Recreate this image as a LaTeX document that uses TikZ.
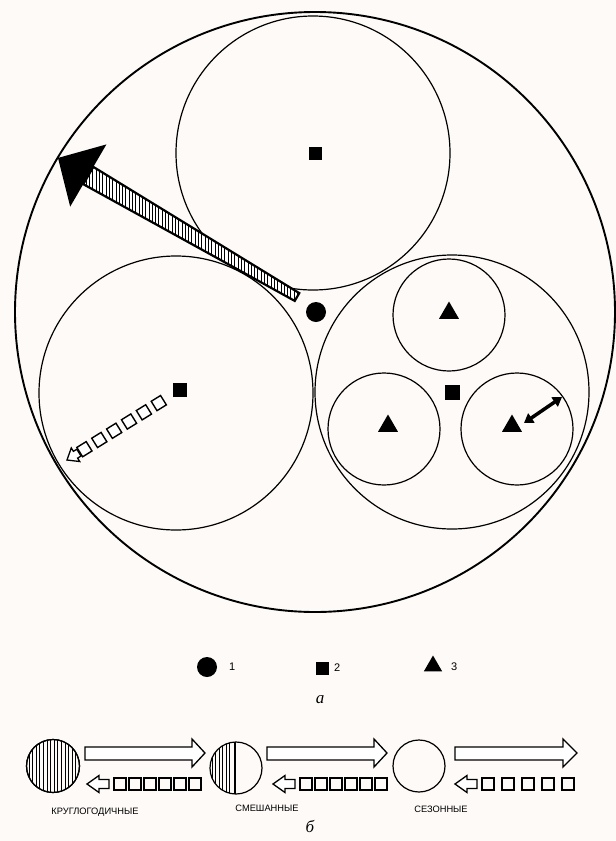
\documentclass[tikz,border=0pt]{standalone}
\usepackage{fontspec}
\setmainfont{Liberation Serif}
\newfontfamily\lblfont{Liberation Sans}
\usetikzlibrary{shapes.geometric,arrows.meta,calc}
\definecolor{paper}{RGB}{253,250,248}
\begin{document}
\begin{tikzpicture}[x=1pt,y=-1pt,
  ring/.style={circle,draw,inner sep=0pt,outer sep=0pt,line width=1.2pt},
  blacksq/.style={rectangle,fill=black,inner sep=0pt,outer sep=0pt,minimum size=#1},
  blacktri/.style={regular polygon,regular polygon sides=3,fill=black,inner sep=0pt,outer sep=0pt,minimum size=#1},
  blackdot/.style={circle,fill=black,inner sep=0pt,outer sep=0pt,minimum size=#1},
  outline/.style={draw=black,line width=1.3pt,fill=white,line join=miter},
  hatch/.style={line width=0.9pt},
  smalllabel/.style={font=\lblfont\fontsize{9.3}{10}\selectfont,inner sep=0pt},
  legendlabel/.style={font=\lblfont\fontsize{11}{11}\selectfont,inner sep=0pt,anchor=west},
  partlabel/.style={font=\itshape\fontsize{17}{17}\selectfont,inner sep=0pt}
]
\fill[paper] (0,0) rectangle (616,841);
\useasboundingbox (0,0) rectangle (616,841);

% ---------- part a : circles ----------
\node[ring,line width=1.9pt,minimum size=600pt] (outer) at (315,312) {};
\node[ring,minimum size=274pt] (top) at (313,153) {};
\node[ring,minimum size=274pt] (left) at (176,393) {};
\node[ring,minimum size=274pt] (right) at (452,392) {};
\node[ring,minimum size=112pt] (rtop) at (449,315) {};
\node[ring,minimum size=112pt] (rbl) at (384,429) {};
\node[ring,minimum size=112pt] (rbr) at (517,429) {};

\node[blackdot=20pt] (dot) at (316,312) {};
\node[blacksq=13pt] (sqtop) at (315,153) {};
\node[blacksq=14pt] (sqleft) at (180,390) {};
\node[blacksq=15pt] (sqright) at (452,392) {};
\node[blacktri=23pt] (ttop) at (449,313) {};
\node[blacktri=23pt] (tbl) at (388,426) {};
\node[blacktri=23pt] (tbr) at (512,426) {};

% double arrow in the right small circle
\coordinate (da1) at (524,423);
\coordinate (da2) at (562,397);
\draw[line width=3.5pt,{Triangle[length=9pt,width=11pt]}-{Triangle[length=9pt,width=11pt]}] (da1)--(da2);

% big hatched arrow
\begin{scope}[shift={(297,297)},rotate=149.8]
  \coordinate (s1) at (0,-4.5);
  \coordinate (s2) at (241.5,-10);
  \coordinate (s3) at (241.5,10);
  \coordinate (s4) at (0,4.5);
  \coordinate (h1) at (241.5,-36);
  \coordinate (tip) at (276.5,0);
  \coordinate (h2) at (241.5,36);
\end{scope}
\fill[white] (s1)--(s2)--(s3)--(s4)--cycle;
\begin{scope}
  \clip (s1)--(s2)--(s3)--(s4)--cycle;
  \foreach \x in {50,53.3,...,310} \draw[hatch] (\x,130)--(\x,320);
\end{scope}
\draw[line width=2.2pt,line join=miter] (s1)--(s2)--(s3)--(s4)--cycle;
\fill (h1)--(tip)--(h2)--cycle;

% squares arrow in left circle
\begin{scope}[shift={(67,460)},rotate=31.8]
  \draw[outline,line width=1.3pt] (0,0)--(10,-8)--(10,-4)--(14,-4)--(14,4)--(10,4)--(10,8)--cycle;
  \foreach \c in {20.5,38,55.5,73,90.5,108}
    \draw[line width=1.4pt,fill=white] (\c-5.5,-5.5) rectangle (\c+5.5,5.5);
\end{scope}

% legend
\node[blackdot=20pt] (l1) at (207,667) {};
\node[legendlabel] (t1) at (229,667) {1};
\node[blacksq=13pt] (l2) at (322,668) {};
\node[legendlabel] (t2) at (334,668) {2};
\node[blacktri=21pt] (l3) at (433,666) {};
\node[legendlabel] (t3) at (451,667) {3};
\node[partlabel] (pa) at (320,700) {а};

% ---------- part b ----------
% group 1: hatched circle
\node[ring,minimum size=53pt] (c1) at (53,766) {};
\begin{scope}
  \clip (53,766) circle[radius=26.5];
  \foreach \x in {29,32.6,...,80} \draw[hatch,line width=0.8pt] (\x,735)--(\x,800);
\end{scope}
\node[ring,minimum size=53pt] at (53,766) {};

% group 2: mixed circle
\node[ring,minimum size=52pt] (c2) at (236,768) {};
\begin{scope}
  \clip (236,768) circle[radius=26];
  \foreach \x in {212,215.5,...,227} \draw[hatch,line width=0.8pt] (\x,735)--(\x,800);
  \draw[line width=1.6pt] (229.5,735)--(229.5,800);
  \draw[line width=1.2pt] (235,735)--(235,800);
\end{scope}

% group 3: plain circle
\node[ring,minimum size=52pt] (c3) at (419,766) {};

% upper (open) arrows
\draw[outline] (85,747)--(192,747)--(192,739)--(205,753)--(192,767)--(192,760)--(85,760)--cycle;
\draw[outline] (267,747)--(374,747)--(374,739)--(387,753)--(374,767)--(374,760)--(267,760)--cycle;
\draw[outline] (455,747)--(563,747)--(563,739)--(577,753)--(563,767)--(563,760)--(455,760)--cycle;

% lower arrows with squares
\foreach \tx/\n/\p in {87/5/15,273/5/15,455/4/20}{
  \begin{scope}[shift={(\tx,784)}]
    \draw[outline] (0,0)--(12,-8.5)--(12,-4.5)--(22,-4.5)--(22,4.5)--(12,4.5)--(12,8.5)--cycle;
    \foreach \k in {0,...,\n}
      \draw[line width=1.4pt] (27+\k*\p,-6) rectangle (39+\k*\p,6);
  \end{scope}
}

\node[smalllabel] (lab1) at (95,812) {КРУГЛОГОДИЧНЫЕ};
\node[smalllabel] (lab2) at (267,808) {СМЕШАННЫЕ};
\node[smalllabel] (lab3) at (441,809) {СЕЗОННЫЕ};
\node[partlabel] (pb) at (310,826) {б};
\end{tikzpicture}
\end{document}
